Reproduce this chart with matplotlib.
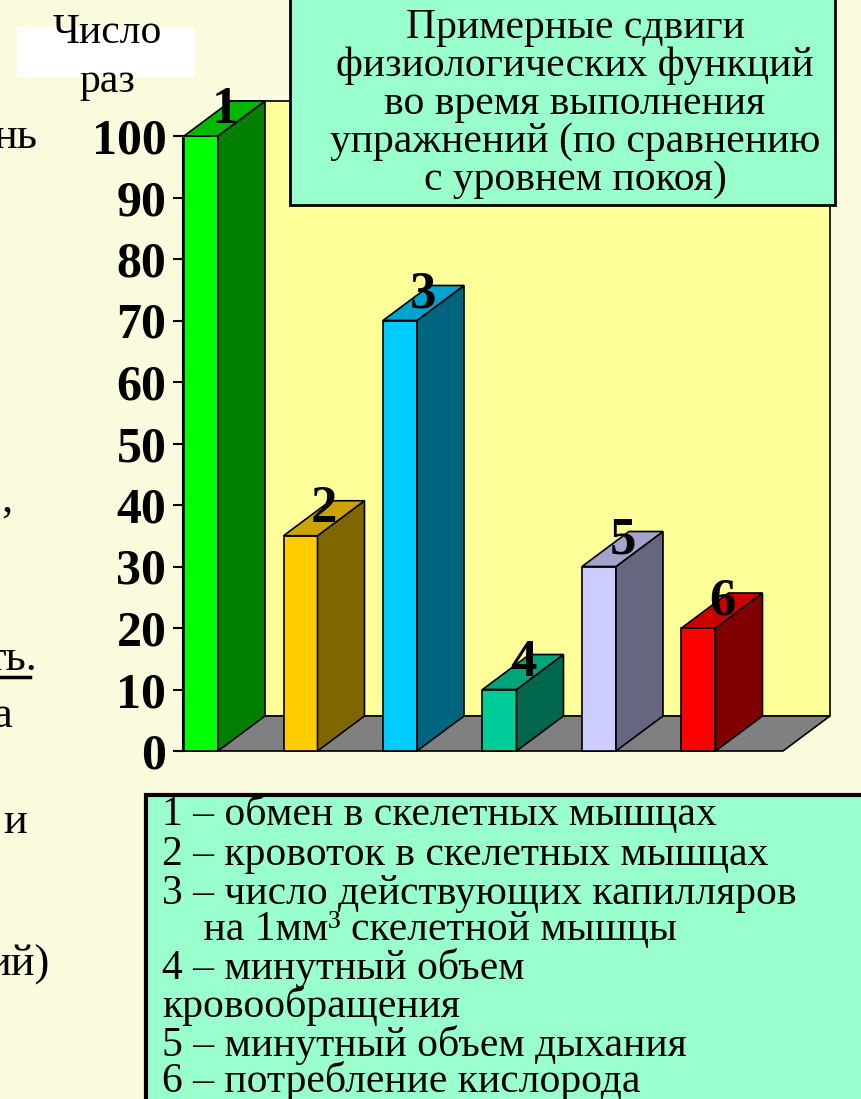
import matplotlib
matplotlib.use('Agg')
import matplotlib.pyplot as plt
from matplotlib.patches import Polygon, Rectangle

# ---------------- data ----------------
bar_labels = ["1", "2", "3", "4", "5", "6"]
values = [100, 35, 70, 10, 30, 20]
y_ticks = [0, 10, 20, 30, 40, 50, 60, 70, 80, 90, 100]
axis_title = ["Число", "раз"]
title_lines = ["Примерные сдвиги",
               "физиологических функций",
               "во время выполнения",
               "упражнений (по сравнению",
               "с уровнем покоя)"]
legend_lines = ["1 – обмен в скелетных мышцах",
                "2 – кровоток в скелетных мышцах",
                "3 – число действующих капилляров",
                "    на 1мм³ скелетной мышцы",
                "4 – минутный объем",
                "кровообращения",
                "5 – минутный объем дыхания",
                "6 – потребление кислорода"]
side_fragments = ["нь", ",", "ть.", "а", "и", "ий)"]

# ---------------- styles ----------------
front_colors = ['#00FF00', '#FFCC00', '#00CCFF', '#00CC99', '#CCCCFF', '#FF0000']
side_colors = ['#008000', '#806600', '#006680', '#00664D', '#666680', '#800000']
top_colors = ['#00B800', '#CCA300', '#00A3CC', '#00A37A', '#A3A3CC', '#CC0000']
BG = '#FAFADC'
WALL = '#FFFF99'
FLOOR = '#808080'
BOX = '#99FFCC'
SERIF = ['Liberation Serif', 'DejaVu Serif']

W, H = 862, 1099
fig = plt.figure(figsize=(W / 100, H / 100), dpi=100, facecolor=BG)

px_per_unit = 6.15
slot = 99.5
ymax = 115
ax = fig.add_axes([183 / W, (H - 751) / H, (W - 183) / W, ymax * px_per_unit / H])
ax.set_xlim(0, (W - 183) / slot)
ax.set_ylim(0, ymax)
ax.patch.set_visible(False)
for s in ['top', 'right', 'bottom']:
    ax.spines[s].set_visible(False)
ax.spines['left'].set_bounds(0, 100)
ax.spines['left'].set_linewidth(1.5)
ax.set_xticks([])
ax.set_yticks(y_ticks)
ax.set_yticklabels([str(t) for t in y_ticks], fontfamily=SERIF,
                   fontweight='bold', fontsize=36)
ax.tick_params(axis='y', direction='out', length=7, width=1.5, pad=5)

dx = 47 / slot
dy = 35 / px_per_unit
floor_len = 600 / slot
lw = 1.2

wall = Polygon([(dx, dy), (floor_len + dx, dy), (floor_len + dx, 100 + dy), (dx, 100 + dy)],
               closed=True, fc=WALL, ec='black', lw=lw, zorder=1, clip_on=False)
ax.add_patch(wall)
floor = Polygon([(0, 0), (floor_len, 0), (floor_len + dx, dy), (dx, dy)],
                closed=True, fc=FLOOR, ec='black', lw=lw, zorder=2, clip_on=False)
ax.add_patch(floor)

w = 34 / slot
for i, (lab, v) in enumerate(zip(bar_labels, values)):
    x0 = 1 / slot + i * 1.0
    front = Rectangle((x0, 0), w, v, fc=front_colors[i], ec='black', lw=lw, zorder=3 + i)
    side = Polygon([(x0 + w, 0), (x0 + w + dx, dy), (x0 + w + dx, v + dy), (x0 + w, v)],
                   closed=True, fc=side_colors[i], ec='black', lw=lw, zorder=3 + i)
    top = Polygon([(x0, v), (x0 + dx, v + dy), (x0 + w + dx, v + dy), (x0 + w, v)],
                  closed=True, fc=top_colors[i], ec='black', lw=lw, zorder=3 + i)
    for p in (front, side, top):
        p.set_clip_on(False)
        ax.add_patch(p)
    ax.text(x0 + w / 2 + dx / 2, v + dy * 0.75, lab, ha='center', va='center',
            fontsize=38, fontweight='bold', fontfamily=SERIF, zorder=20, clip_on=False)

# ---------------- overlay (slide elements) ----------------
ov = fig.add_axes([0, 0, 1, 1])
ov.set_xlim(0, W)
ov.set_ylim(H, 0)
ov.axis('off')
ov.patch.set_visible(False)

# axis title box
ov.add_patch(Rectangle((17, 27), 178, 50, fc='white', ec='none', zorder=1))
ov.text(107, 43, axis_title[0], ha='center', va='baseline', fontsize=30,
        fontfamily=SERIF, zorder=2)
ov.text(107, 92, axis_title[1], ha='center', va='baseline', fontsize=30,
        fontfamily=SERIF, zorder=2)

# title box
ov.add_patch(Rectangle((290, -4), 545, 209, fc=BOX, ec='black', lw=2, zorder=1))
for k, line in enumerate(title_lines):
    ov.text(575, 38 + 38 * k, line, ha='center', va='baseline', fontsize=30,
            fontfamily=SERIF, zorder=2)

# legend box
ov.add_patch(Rectangle((146, 795), 740, 330, fc=BOX, ec='black', lw=3, zorder=1))
legend_base = [825, 865, 904, 940, 979, 1017, 1056, 1092]
for y, line in zip(legend_base, legend_lines):
    ov.text(162, y, line, ha='left', va='baseline', fontsize=30,
            fontfamily=SERIF, zorder=2)

# cut-off text from the slide's left column
frag_pos = [(37, 148), (12, 512), (37, 670), (12, 727), (27, 833), (50, 976)]
for (x, y), t in zip(frag_pos, side_fragments):
    ov.text(x, y, t, ha='right', va='baseline', fontsize=32, fontfamily=SERIF, zorder=2)
ov.plot([0, 30], [677, 677], color='black', lw=2.5, zorder=2)

fig.savefig('out.png', dpi=100, facecolor=BG)
